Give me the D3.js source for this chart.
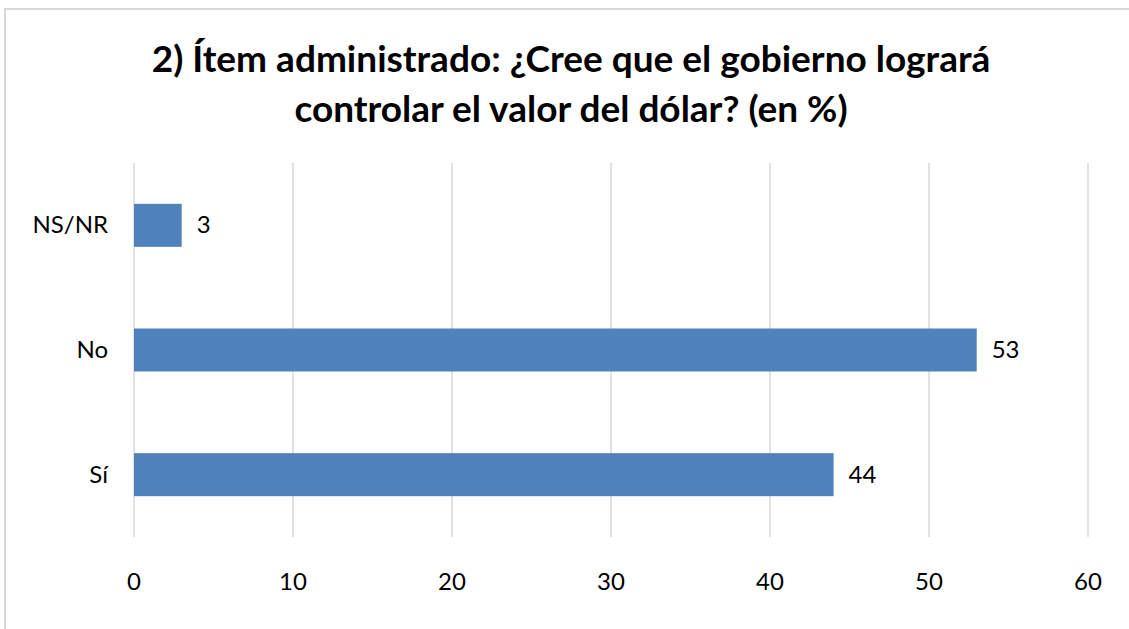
<!DOCTYPE html>
<html>
<head>
<meta charset="utf-8">
<script src="https://cdn.jsdelivr.net/npm/d3@7"></script>
<style>
  body { margin: 0; background: #fff; }
  text { font-family: Lato, "Noto Sans", sans-serif; fill: #000; }
</style>
</head>
<body>
<script>
// data
const categories = ["NS/NR", "No", "Sí"];
const values = [3, 53, 44];
const xTicks = [0, 10, 20, 30, 40, 50, 60];
const titleLines = ["2) Ítem administrado: ¿Cree que el gobierno logrará",
                    "controlar el valor del dólar? (en %)"];

const w = 1129, h = 629;
const svg = d3.select("body").append("svg")
  .attr("width", w)
  .attr("height", h);

// chart border
svg.append("rect")
  .attr("x", 5).attr("y", 9)
  .attr("width", w + 20).attr("height", h + 20)
  .attr("fill", "none")
  .attr("stroke", "#d9d9d9")
  .attr("stroke-width", 2);

svg.selectAll(".title")
  .data(titleLines)
  .enter()
  .append("text")
  .attr("class", "title")
  .attr("x", 571)
  .attr("y", (d, i) => 72 + i * 50)
  .attr("text-anchor", "middle")
  .attr("font-size", 37)
  .attr("font-weight", "bold")
  .text(d => d);

const x = d3.scaleLinear().domain([0, 60]).range([134, 1088]);
const y = d3.scaleBand().domain(categories).range([163, 537]).paddingInner(0.655).paddingOuter(0.3275);

// gridlines
svg.selectAll(".grid")
  .data(xTicks)
  .enter()
  .append("line")
  .attr("x1", d => x(d)).attr("x2", d => x(d))
  .attr("y1", 163).attr("y2", 537)
  .attr("stroke", "#d9d9d9")
  .attr("stroke-width", 1.5);

// tick labels
svg.selectAll(".xtick")
  .data(xTicks)
  .enter()
  .append("text")
  .attr("x", d => x(d))
  .attr("y", 590)
  .attr("text-anchor", "middle")
  .attr("font-size", 24)
  .text(d => d);

// bars
svg.selectAll(".bar")
  .data(values)
  .enter()
  .append("rect")
  .attr("x", x(0))
  .attr("y", (d, i) => y(categories[i]))
  .attr("width", d => x(d) - x(0))
  .attr("height", y.bandwidth())
  .attr("fill", "#4f81bd");

// category labels
svg.selectAll(".cat")
  .data(categories)
  .enter()
  .append("text")
  .attr("x", 108)
  .attr("y", d => y(d) + y.bandwidth() / 2 + 8)
  .attr("text-anchor", "end")
  .attr("font-size", 24)
  .text(d => d);

// value labels
svg.selectAll(".val")
  .data(values)
  .enter()
  .append("text")
  .attr("x", d => x(d) + 15)
  .attr("y", (d, i) => y(categories[i]) + y.bandwidth() / 2 + 8)
  .attr("font-size", 24)
  .text(d => d);
</script>
</body>
</html>
